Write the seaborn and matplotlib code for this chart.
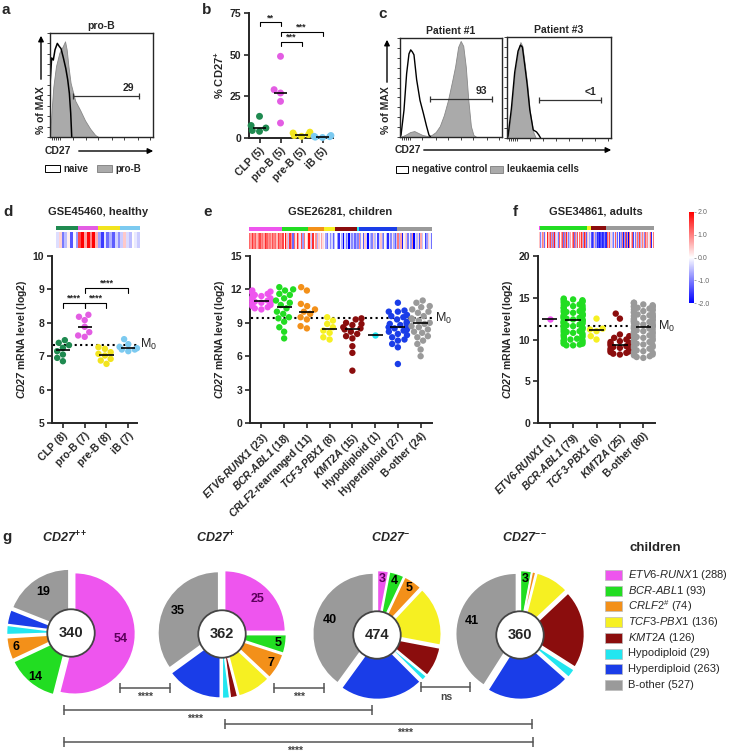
import numpy as np
import pandas as pd
import matplotlib.pyplot as plt
import matplotlib.patches as mpatches
from matplotlib.colors import ListedColormap, Normalize
from matplotlib.cm import ScalarMappable
import seaborn as sns
import warnings
warnings.filterwarnings('ignore')

# ── Style ─────────────────────────────────────────────────────
sns.set_style("ticks")
plt.rcParams.update({
    'font.family': ['Liberation Sans', 'DejaVu Sans'],
    'font.weight': 'bold',
    'axes.labelweight': 'bold',
    'axes.titleweight': 'bold',
    'mathtext.fontset': 'custom',
    'mathtext.rm': 'Liberation Sans:weight=normal',
    'mathtext.bf': 'Liberation Sans:weight=bold',
    'mathtext.it': 'Liberation Sans:style=italic:weight=normal',
    'mathtext.bfit': 'Liberation Sans:style=italic:weight=bold',
    'axes.linewidth': 1.4,
})
W, H = 731, 755

# ── Data ──────────────────────────────────────────────────────
# a: flow histogram (x, % of max)
a_naive_x = [0, 1.6, 3.2, 4.9, 7.1, 9.1, 10.7, 13.0, 15.3, 17.2, 18.8, 20.1, 21.1]
a_naive_y = [50, 76, 74, 84, 90, 87, 85, 76, 66, 55, 42, 23, 0]
a_prob_x = [0, 1.6, 3.2, 5.8, 9.1, 12.3, 14.6, 16.2, 17.9, 20, 24.4, 29.2, 34, 39, 43.8, 47]
a_prob_y = [0, 26, 48, 68, 81, 87, 92, 84, 68, 52, 35, 26, 16, 8, 2, 0]

# b: % CD27+ per population
b_names = ['CLP', 'pro-B', 'pre-B', 'iB']
b_clp = [13, 7.5, 6, 4.5, 4]
b_prob = [49, 29, 27, 22, 9]
b_preb = [3.5, 3, 2, 1.5, 1]
b_ib = [1.5, 1, 0.8, 0.5, 0.3]

# c: patient histograms
c1_neg_x = [0, 1, 3.9, 6.5, 8.8, 10.5, 12.1, 13.7, 16.3, 19.6, 22.9, 26, 28.4, 30]
c1_neg_y = [0, 2, 27, 64, 84, 88, 86, 83, 58, 37, 24, 11, 2, 0]
c1_leuk_x = [0, 5, 10, 14, 18, 22, 27, 31, 35, 39, 43, 47, 51, 54, 57, 59.5, 62, 64.5, 67, 69.5, 72, 75]
c1_leuk_y = [0, 2, 5, 6, 4, 2, 1, 2, 5, 11, 22, 37, 56, 71, 91, 97, 92, 71, 37, 11, 2, 0]
c3_leuk_x = [0, 1, 4.2, 7.4, 10.6, 12.9, 14.8, 17.1, 19.4, 21.9, 25.2, 27.7]
c3_leuk_y = [0, 1, 27, 63, 85, 95, 91, 73, 54, 27, 6, 0]
c3_neg_x = [0, 1, 4.2, 7.4, 10.6, 12.9, 14.8, 17.1, 19.4, 21.9, 25.2, 28.4, 30.6, 32.3]
c3_neg_y = [0, 2, 29, 65, 86, 92, 90, 72, 53, 28, 8, 6, 3, 0]

# d: GSE45460 healthy
d_clp = [7.25, 7.48, 6.95, 7.15, 7.40, 6.85, 7.33, 7.05]
d_prob = [7.88, 8.24, 7.62, 8.08, 7.72, 8.18, 7.58]
d_preb = [7.07, 6.77, 7.27, 6.92, 7.12, 6.87, 7.22, 7.02]
d_ib = [7.20, 7.51, 7.24, 7.15, 7.36, 7.28, 7.20]
d_m0 = 7.35

# e: GSE26281 children
e_names = ['ETV6-RUNX1', 'BCR-ABL1', 'CRLF2-rearranged', 'TCF3-PBX1', 'KMT2A',
           'Hypodiploid', 'Hyperdiploid', 'B-other']
e_etv6 = [11.2, 10.6, 11.8, 10.9, 11.4, 10.3, 11.0, 11.6, 10.8, 11.1, 10.5, 11.9,
          11.3, 10.7, 11.0, 10.4, 11.5, 10.9, 11.2, 10.2, 11.7, 11.0, 10.8]
e_bcr = [11.6, 9.4, 12.2, 10.3, 8.6, 11.9, 10.8, 7.6, 11.2, 9.8, 12.0, 10.6, 9.1,
         11.5, 8.2, 11.0, 9.5, 10.0]
e_crlf2 = [12.2, 10.2, 8.7, 11.9, 9.5, 10.7, 8.5, 10.0, 9.3, 10.5, 9.8]
e_tcf3 = [9.5, 8.3, 7.7, 9.2, 8.1, 8.9, 7.5, 8.6]
e_kmt2a = [9.4, 8.2, 6.9, 9.3, 8.5, 4.7, 9.0, 7.8, 8.6, 6.3, 8.9, 8.0, 8.8, 7.6, 8.4]
e_hypo = [7.9]
e_hyper = [10.8, 8.2, 9.6, 7.4, 10.0, 8.8, 5.3, 9.1, 8.5, 7.9, 10.0, 8.6, 9.3, 7.1,
           8.9, 10.1, 8.3, 7.7, 9.5, 8.6, 6.8, 9.0, 8.0, 9.7, 8.4, 7.5, 8.7]
e_bother = [11.0, 8.4, 10.5, 6.6, 9.6, 8.9, 10.2, 7.8, 9.3, 8.1, 10.8, 6.0, 9.0, 8.6,
            9.9, 7.4, 10.4, 8.7, 9.4, 7.1, 8.2, 10.0, 9.2, 7.7]
e_m0 = 9.4

# f: GSE34861 adults
f_names = ['ETV6-RUNX1', 'BCR-ABL1', 'TCF3-PBX1', 'KMT2A', 'B-other']
f_etv6 = [12.5]
f_bcr = [12.4, 9.8, 14.6, 11.2, 13.5, 10.4, 12.9, 14.1, 9.5, 12.0,
         13.8, 11.6, 10.9, 14.8, 12.6, 9.3, 13.1, 11.9, 14.3, 10.2,
         12.2, 13.6, 11.4, 9.9, 14.9, 12.8, 10.7, 13.3, 12.1, 11.0,
         14.5, 9.6, 12.5, 13.9, 11.7, 10.5, 13.0, 12.3, 14.2, 9.4,
         11.3, 13.7, 12.7, 10.1, 14.7, 11.8, 12.4, 9.7, 13.4, 10.8,
         14.0, 12.9, 11.5, 10.3, 13.2, 12.6, 14.4, 9.5, 11.1, 13.5,
         12.2, 10.6, 14.1, 12.0, 11.6, 9.9, 13.8, 12.5, 10.9, 14.6,
         11.9, 13.0, 10.0, 12.3, 14.8, 11.4, 13.3, 9.3, 12.8]
f_tcf3 = [12.5, 10.0, 11.3, 10.4, 11.0, 11.2]
f_kmt2a = [13.1, 9.2, 8.6, 10.6, 9.5, 8.3, 12.5, 9.8, 8.9, 10.2, 9.4, 8.5, 9.0,
           10.4, 8.2, 9.6, 8.8, 9.3, 10.0, 8.4, 9.1, 8.7, 9.7, 9.4, 8.6]
f_bother = [11.6, 8.4, 13.9, 10.2, 12.7, 9.1, 14.3, 11.0, 7.9, 12.2,
            13.4, 10.6, 9.6, 12.9, 11.3, 8.1, 14.0, 10.9, 12.4, 9.3,
            13.1, 11.8, 8.7, 14.4, 10.4, 12.0, 9.9, 13.6, 11.5, 8.3,
            12.6, 10.1, 14.1, 11.2, 9.0, 13.3, 12.3, 7.8, 10.8, 13.8,
            11.7, 9.5, 12.8, 10.5, 14.2, 8.9, 12.1, 11.4, 13.0, 9.7,
            12.5, 8.2, 13.7, 11.1, 10.3, 14.4, 9.2, 12.9, 11.9, 10.7,
            13.5, 8.6, 12.4, 11.6, 9.8, 14.0, 10.0, 12.7, 8.0, 13.2,
            11.3, 9.4, 12.2, 10.9, 13.9, 8.5, 12.0, 11.7, 10.4, 13.6]
f_m0 = 11.6

# g: subtype composition (%) per CD27 class
g_classes = [r'$\mathbfit{CD27}^{\mathbf{++}}$', r'$\mathbfit{CD27}^{\mathbf{+}}$',
             r'$\mathbfit{CD27}^{\mathbf{-}}$', r'$\mathbfit{CD27}^{\mathbf{--}}$']
g_totals = [340, 362, 474, 360]
g_pie1 = [54, 14, 6, 0.5, 0, 2.5, 4, 19]
g_pie2 = [25, 5, 7, 9, 2, 2, 15, 35]
g_pie3 = [3, 4, 5, 16, 8, 1.5, 22.5, 40]
g_pie4 = [0, 3, 1, 9, 21, 2.5, 22.5, 41]
g_lab1 = ['54', '14', '6', '', '', '', '', '19']
g_lab2 = ['25', '5', '7', '', '', '', '', '35']
g_lab3 = ['3', '4', '5', '', '', '', '', '40']
g_lab4 = ['', '3', '', '', '', '', '', '41']
g_legend = [r'$\mathit{ETV6}$-$\mathit{RUNX1}$', r'$\mathit{BCR}$-$\mathit{ABL1}$',
            r'$\mathit{CRLF2}$$^{\#}$', r'$\mathit{TCF3}$-$\mathit{PBX1}$',
            r'$\mathit{KMT2A}$', 'Hypodiploid', 'Hyperdiploid', 'B-other']
g_counts = [288, 93, 74, 136, 126, 29, 263, 527]

# ── Colours ───────────────────────────────────────────────────
SUB = {'ETV6-RUNX1': '#ee55ee', 'BCR-ABL1': '#22dd22', 'CRLF2-rearranged': '#f39019',
       'TCF3-PBX1': '#f6f022', 'KMT2A': '#8b0d0d', 'Hypodiploid': '#22e6f0',
       'Hyperdiploid': '#1a3de8', 'B-other': '#9a9a9a'}
SUB_LIST = list(SUB.values())
DEV = {'CLP': '#1f8a50', 'pro-B': '#e35de3', 'pre-B': '#f2e41e', 'iB': '#7ccaf0'}
GENE_TICK = {'ETV6-RUNX1': r'$\mathbfit{ETV6}$-$\mathbfit{RUNX1}$',
             'BCR-ABL1': r'$\mathbfit{BCR}$-$\mathbfit{ABL1}$',
             'CRLF2-rearranged': r'$\mathbfit{CRLF2}$-rearranged',
             'TCF3-PBX1': r'$\mathbfit{TCF3}$-$\mathbfit{PBX1}$',
             'KMT2A': r'$\mathbfit{KMT2A}$'}

fig = plt.figure(figsize=(W / 100, H / 100), dpi=100)


def add_ax(x0, y0, x1, y1):
    return fig.add_axes([x0 / W, 1 - y1 / H, (x1 - x0) / W, (y1 - y0) / H])


def flow_box(ax, title):
    ax.set_xlim(0, 100)
    ax.set_ylim(0, 100)
    for s in ax.spines.values():
        s.set_linewidth(1.0)
    ax.set_xticks([2, 4, 6, 8, 10, 22, 35, 47, 60, 72, 85, 97])
    ax.set_yticks([0, 10, 20, 30, 40, 50, 60, 70, 80, 90, 100])
    ax.tick_params(length=2, width=0.6, labelbottom=False, labelleft=False)
    ax.set_title(title, fontsize=7.5, pad=3)


def gate(ax, x1, x2, y, text):
    ax.plot([x1, x2], [y, y], color='#333333', lw=0.9, marker='|', ms=5, mew=0.9)
    ax.text(x2 - 10, y + 3, text, ha='center', va='bottom', fontsize=7.5)


def swarm_panel(ax, keys, groups, palette, size, ticklabels):
    df = pd.DataFrame({'group': np.repeat(keys, [len(g) for g in groups]),
                       'value': np.concatenate(groups)})
    sns.swarmplot(data=df, x='group', y='value', hue='group', order=keys,
                  hue_order=keys, palette=palette, size=size, legend=False,
                  ax=ax, clip_on=False)
    for i, g in enumerate(groups):
        ax.hlines(np.median(g), i - 0.33, i + 0.33, color='black', lw=1.2, zorder=5)
    ax.set_xlabel('')
    ax.set_ylabel('')
    ax.set_xticks(range(len(keys)))
    ax.set_xticklabels(ticklabels, rotation=45, ha='right', rotation_mode='anchor',
                       fontsize=7)
    ax.tick_params(length=3.5, width=1.2, labelsize=7.5, pad=2)
    sns.despine(ax=ax)


def sig(ax, x1, x2, y, h, text):
    ax.plot([x1, x1, x2, x2], [y - h, y, y, y - h], color='black', lw=0.8, clip_on=False)
    ax.text((x1 + x2) / 2, y, text, ha='center', va='bottom', fontsize=6.5, clip_on=False)


def m0_line(ax, x0, x1, m0):
    ax.plot([x0, x1], [m0, m0], ls=(0, (1, 1.6)), color='black', lw=1.5, clip_on=False)
    ax.text(x1 + 0.12, m0, r'M$_{0}$', fontsize=9, fontweight='normal',
            va='center', clip_on=False)


def strips(hx0, hx1, hy, groups, colors, m0):
    vals = np.concatenate(groups)
    idx = np.repeat(np.arange(len(groups)), [len(g) for g in groups])
    hdr = add_ax(hx0, hy, hx1, hy + 4)
    hdr.imshow(idx[np.newaxis, :], cmap=ListedColormap(colors), aspect='auto',
               interpolation='nearest', vmin=-0.5, vmax=len(groups) - 0.5)
    hdr.axis('off')
    hm = add_ax(hx0, hy + 6, hx1, hy + 22)
    z = (vals - m0) / vals.std()
    hm.imshow(z[np.newaxis, :], cmap='bwr', vmin=-2, vmax=2, aspect='auto',
              interpolation='nearest')
    hm.axis('off')


# ── a ─────────────────────────────────────────────────────────
ax = add_ax(50, 33, 153, 137)
flow_box(ax, 'pro-B')
ax.fill_between(a_prob_x, a_prob_y, color='#aaaaaa', ec='#888888', lw=0.6)
ax.plot(a_naive_x, a_naive_y, color='black', lw=1.1)
gate(ax, 22, 86, 39, '29')

# ── b ─────────────────────────────────────────────────────────
ax = add_ax(249, 13, 333, 138)
b_ticks = [f'{n} ({len(g)})' for n, g in zip(b_names, [b_clp, b_prob, b_preb, b_ib])]
swarm_panel(ax, b_names, [b_clp, b_prob, b_preb, b_ib], DEV, 5, b_ticks)
ax.set_ylim(0, 75)
ax.set_xlim(-0.5, 3.5)
ax.set_yticks([0, 25, 50, 75])
ax.set_ylabel(r'% CD27$^{\mathbf{+}}$', fontsize=8, labelpad=3)
sig(ax, 0, 1, 69.4, 2.5, '**')
sig(ax, 1, 3, 63.6, 2.5, '***')
sig(ax, 1, 2, 57.6, 2.5, '***')

# ── c ─────────────────────────────────────────────────────────
ax = add_ax(400, 38, 502, 137)
flow_box(ax, 'Patient #1')
ax.fill_between(c1_leuk_x, c1_leuk_y, color='#aaaaaa', ec='#888888', lw=0.6)
ax.plot(c1_neg_x, c1_neg_y, color='black', lw=1.0)
gate(ax, 29, 90, 38.5, '93')
ax = add_ax(507, 37, 611, 138)
flow_box(ax, 'Patient #3')
ax.plot(c3_neg_x, c3_neg_y, color='black', lw=1.0)
ax.fill_between(c3_leuk_x, c3_leuk_y, color='#aaaaaa', ec='#888888', lw=0.6)
gate(ax, 30.6, 90.3, 38, '<1')

# ── d ─────────────────────────────────────────────────────────
ax = add_ax(52, 256, 137, 423)
d_groups = [d_clp, d_prob, d_preb, d_ib]
d_ticks = [f'{n} ({len(g)})' for n, g in zip(b_names, d_groups)]
swarm_panel(ax, b_names, d_groups, DEV, 4.6, d_ticks)
ax.set_ylim(5, 10)
ax.set_xlim(-0.5, 3.4)
ax.set_ylabel(r'$\mathbfit{CD27}$ mRNA level (log2)', fontsize=7.5, labelpad=3)
m0_line(ax, -0.45, 3.4, d_m0)
sig(ax, 0, 1, 8.6, 0.17, '****')
sig(ax, 1, 2, 8.6, 0.17, '****')
sig(ax, 1, 3, 9.05, 0.17, '****')
strips(56, 140, 226, d_groups, list(DEV.values()), d_m0)

# ── e ─────────────────────────────────────────────────────────
ax = add_ax(250, 256, 432, 423)
e_groups = [e_etv6, e_bcr, e_crlf2, e_tcf3, e_kmt2a, e_hypo, e_hyper, e_bother]
e_ticks = [f'{GENE_TICK.get(n, n)} ({len(g)})' for n, g in zip(e_names, e_groups)]
swarm_panel(ax, e_names, e_groups, SUB, 4.6, e_ticks)
ax.set_ylim(0, 15)
ax.set_xlim(-0.5, 7.5)
ax.set_yticks([0, 3, 6, 9, 12, 15])
ax.set_ylabel(r'$\mathbfit{CD27}$ mRNA level (log2)', fontsize=7.5, labelpad=3)
m0_line(ax, -0.45, 7.5, e_m0)
strips(249, 432, 227, e_groups, [SUB[n] for n in e_names], e_m0)

# ── f ─────────────────────────────────────────────────────────
ax = add_ax(538, 256, 655, 423)
f_groups = [f_etv6, f_bcr, f_tcf3, f_kmt2a, f_bother]
f_ticks = [f'{GENE_TICK.get(n, n)} ({len(g)})' for n, g in zip(f_names, f_groups)]
swarm_panel(ax, f_names, f_groups, SUB, 4.6, f_ticks)
ax.set_ylim(0, 20)
ax.set_xlim(-0.5, 4.5)
ax.set_yticks([0, 5, 10, 15, 20])
ax.set_ylabel(r'$\mathbfit{CD27}$ mRNA level (log2)', fontsize=7.5, labelpad=3)
m0_line(ax, -0.45, 4.5, f_m0)
strips(539, 654, 226, f_groups, [SUB[n] for n in f_names], f_m0)

cax = add_ax(689, 212, 694, 303)
cb = fig.colorbar(ScalarMappable(norm=Normalize(-2, 2), cmap='bwr'), cax=cax)
cb.set_ticks([2, 1, 0, -1, -2])
cb.set_ticklabels(['2.0', '1.0', '0.0', '-1.0', '-2.0'])
cb.outline.set_visible(False)
cax.tick_params(labelsize=5, length=1.5, width=0.4, colors='#666666', pad=1)
for t in cax.get_yticklabels():
    t.set_fontweight('normal')

# ── g ─────────────────────────────────────────────────────────
pies = [g_pie1, g_pie2, g_pie3, g_pie4]
pie_labels = [g_lab1, g_lab2, g_lab3, g_lab4]
centres = [(71, 633), (222, 634), (377, 635), (520, 635)]
for vals, labs, total, (cx, cy) in zip(pies, pie_labels, g_totals, centres):
    ax = add_ax(cx - 70, cy - 70, cx + 70, cy + 70)
    ax.pie(vals, colors=SUB_LIST, startangle=90, counterclock=False,
           explode=[0.06] * len(vals), radius=1,
           wedgeprops=dict(edgecolor='white', linewidth=1.2))
    frac = np.cumsum(vals) / np.sum(vals)
    mids = frac - np.array(vals) / np.sum(vals) / 2
    for i, lab in enumerate(labs):
        if not lab:
            continue
        ang = np.deg2rad(90 - 360 * mids[i])
        r = 0.82 if vals[i] >= 15 else 0.93
        ax.text(r * np.cos(ang), r * np.sin(ang), lab, ha='center', va='center',
                fontsize=9, color='#5a005a' if i == 0 else 'black')
    ax.add_patch(mpatches.Circle((0, 0), 0.39, facecolor='white', edgecolor='#444444',
                                 lw=1.3, zorder=10))
    ax.text(0, 0, str(total), ha='center', va='center', fontsize=10.5, zorder=11)
    ax.set_xlim(-1.15, 1.15)
    ax.set_ylim(-1.15, 1.15)

# ── Overlay: letters, arrows, legends, brackets ───────────────
ov = add_ax(0, 0, W, H)
ov.set_xlim(0, W)
ov.set_ylim(H, 0)
ov.axis('off')
for txt, x, y in [('a', 2, 10), ('b', 202, 10), ('c', 378, 14), ('d', 3, 212),
                  ('e', 203, 212), ('f', 513, 212), ('g', 2, 537)]:
    ov.text(x, y, txt, fontsize=11, va='center')
for txt, x in [('GSE45460, healthy', 98), ('GSE26281, children', 340),
               ('GSE34861, adults', 596)]:
    ov.text(x, 212, txt, fontsize=8, ha='center', va='center')

arrow = dict(arrowstyle='-|>', color='black', lw=1.0, mutation_scale=8)
ov.annotate('', xy=(41, 33), xytext=(41, 82), arrowprops=arrow)
ov.text(41, 110, '% of MAX', rotation=90, fontsize=7.5, ha='center', va='center')
ov.text(45, 151, 'CD27', fontsize=7.5, va='center')
ov.annotate('', xy=(156, 151), xytext=(76, 151), arrowprops=arrow)
ov.add_patch(mpatches.Rectangle((45, 165), 15, 7, fc='white', ec='black', lw=0.7))
ov.text(63, 168.5, 'naive', fontsize=7, va='center')
ov.add_patch(mpatches.Rectangle((97, 165), 15, 7, fc='#aaaaaa', ec='#888888', lw=0.7))
ov.text(115, 168.5, 'pro-B', fontsize=7, va='center')

ov.annotate('', xy=(387, 37), xytext=(387, 85), arrowprops=arrow)
ov.text(386, 110, '% of MAX', rotation=90, fontsize=7.5, ha='center', va='center')
ov.text(395, 150, 'CD27', fontsize=7.5, va='center')
ov.annotate('', xy=(614, 150), xytext=(421, 150), arrowprops=arrow)
ov.add_patch(mpatches.Rectangle((396, 166), 12, 7, fc='white', ec='black', lw=0.7))
ov.text(412, 169.5, 'negative control', fontsize=7, va='center')
ov.add_patch(mpatches.Rectangle((490, 166), 13, 7, fc='#aaaaaa', ec='#888888', lw=0.7))
ov.text(507, 169.5, 'leukaemia cells', fontsize=7, va='center')

for t, x in zip(g_classes, [65, 215, 390, 525]):
    ov.text(x, 538, t, fontsize=9, ha='center', va='center')
ov.text(655, 548, 'children', fontsize=9.5, ha='center', va='center')
for i, (lab, n) in enumerate(zip(g_legend, g_counts)):
    y = 575 + i * 15.7
    ov.add_patch(mpatches.Rectangle((605, y - 5), 17, 10, fc=SUB_LIST[i], ec='#bbbbbb', lw=0.5))
    ov.text(628, y, f'{lab} ({n})', fontsize=8, fontweight='normal', va='center')

for x1, x2, y, txt, tx, ty in [(120, 170, 688, '****', 145, 697),
                               (274, 324, 688, '***', 299, 697),
                               (421, 470, 687, 'ns', 446, 697),
                               (64, 372, 710, '****', 195, 719),
                               (225, 532, 724, '****', 405, 733),
                               (64, 533, 742, '****', 295, 751)]:
    ov.plot([x1, x2], [y, y], color='#555555', lw=1.1, marker='|', ms=7, mew=1.1)
    ov.text(tx, ty, txt, fontsize=7.5, color='#444444', ha='center', va='center')

plt.savefig('out.png', dpi=100)
